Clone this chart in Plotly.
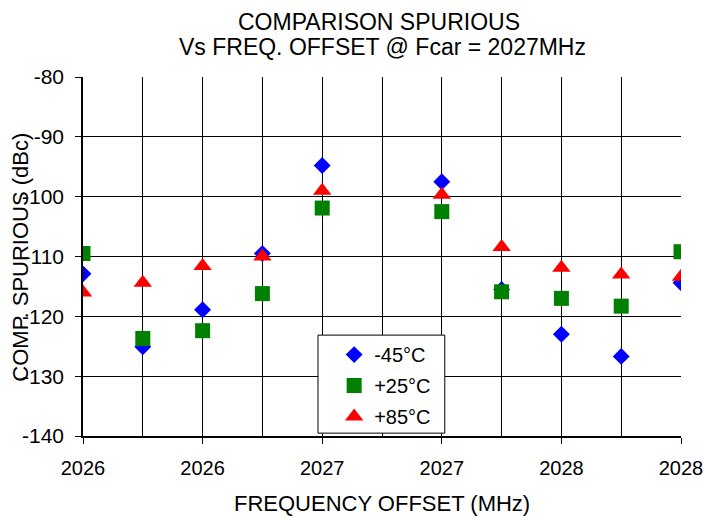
import plotly.graph_objects as go

freq = [2025.5, 2025.75, 2026.0, 2026.25, 2026.5, 2026.75, 2027.0, 2027.25, 2027.5, 2027.75, 2028.0]
m45 = [-112.9, -125.1, -118.9, -109.5, -94.8, None, -97.5, -115.5, -123.0, -126.7, -114.4]
p25 = [-109.5, -123.7, -122.4, -116.2, -101.9, None, -102.5, -115.9, -117.0, -118.3, -109.2]
p85 = [-116.0, -114.4, -111.6, -110.0, -99.0, None, -99.7, -108.4, -111.9, -113.0, -113.4]

x_tickvals = [2025.5, 2026.0, 2026.5, 2027.0, 2027.5, 2028.0]
x_ticktext = ["2026", "2026", "2027", "2027", "2028", "2028"]
y_tickvals = [-140, -130, -120, -110, -100, -90, -80]
y_ticktext = ["-140", "-130", "-120", "-110", "-100", "-90", "-80"]

FONT = "Liberation Sans, Arial, Helvetica, sans-serif"

fig = go.Figure()
fig.add_trace(go.Scatter(x=freq, y=m45, mode="markers", name="-45°C", legendgroup="a",
                         marker=dict(symbol="diamond", color="#0000FF", size=13, line=dict(width=0))))
fig.add_trace(go.Scatter(x=freq, y=p25, mode="markers", name="+25°C", legendgroup="b",
                         marker=dict(symbol="square", color="#008000", size=15, line=dict(width=0))))
fig.add_trace(go.Scatter(x=freq, y=p85, mode="markers", name="+85°C", legendgroup="c",
                         marker=dict(symbol="triangle-up", color="#FF0000", size=16, line=dict(width=0))))

fig.update_layout(
    width=704, height=517,
    margin=dict(l=83, r=23, t=77, b=81),
    paper_bgcolor="white", plot_bgcolor="white",
    font=dict(family=FONT, color="black", size=20),
    showlegend=True,
    legend=dict(x=0.42, y=0.281, xanchor="left", yanchor="top",
                bgcolor="rgba(0,0,0,0)", borderwidth=0,
                font=dict(size=20, family=FONT), tracegroupgap=2,
                itemwidth=30),
    shapes=[dict(type="rect", xref="paper", yref="paper", x0=0.393, x1=0.605, y0=0.008, y1=0.281,
                 line=dict(color="black", width=1), fillcolor="white", layer="above")],
    xaxis=dict(range=[2025.5, 2028.0], tickvals=x_tickvals, ticktext=x_ticktext,
               showgrid=True, gridcolor="black", gridwidth=1, automargin=False,
               ticklabeloverflow="allow",
               ticks="outside", ticklen=6, tickcolor="black",
               minor=dict(tick0=2025.5, dtick=0.25, showgrid=True, gridcolor="black", gridwidth=1, ticks=""),
               showline=True, linecolor="black", linewidth=1.5, zeroline=False,
               tickfont=dict(size=20), ticklabelstandoff=7),
    yaxis=dict(range=[-140, -80], tickvals=y_tickvals, ticktext=y_ticktext,
               showgrid=True, gridcolor="black", gridwidth=1, automargin=False,
               ticks="outside", ticklen=6, tickcolor="black",
               showline=True, linecolor="black", linewidth=1.5, zeroline=False,
               tickfont=dict(size=21), ticklabelstandoff=7),
    annotations=[
        dict(text="COMPARISON SPURIOUS", xref="paper", yref="paper", x=0.495, y=1.1532,
             xanchor="center", yanchor="middle", showarrow=False, font=dict(size=23, family=FONT)),
        dict(text="Vs FREQ. OFFSET @ Fcar = 2027MHz", xref="paper", yref="paper", x=0.5, y=1.0836,
             xanchor="center", yanchor="middle", showarrow=False, font=dict(size=23, family=FONT)),
        dict(text="FREQUENCY OFFSET (MHz)", xref="paper", yref="paper", x=0.5, y=-0.187,
             xanchor="center", yanchor="middle", showarrow=False, font=dict(size=22, family=FONT)),
        dict(text="COMP. SPURIOUS (dBc)", xref="paper", yref="paper",
             x=-0.104, y=0.499, xanchor="center", yanchor="middle", textangle=-90,
             showarrow=False, font=dict(size=22, family=FONT)),
    ],
)

fig.write_html("out.html", config={"displayModeBar": False},
               post_script="document.body.style.margin='0';document.body.style.overflow='hidden';")
